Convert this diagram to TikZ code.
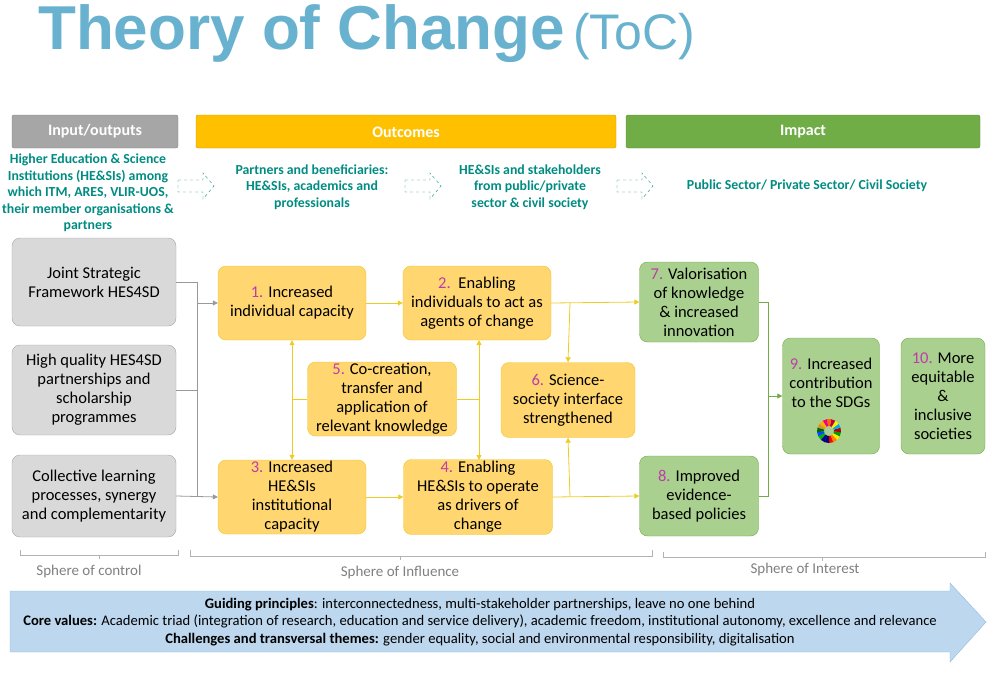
\documentclass[tikz,border=0pt]{standalone}
\usepackage{fontspec}
\setmainfont{Carlito}
\newfontfamily\titlefont{Liberation Sans}
\usetikzlibrary{arrows.meta}
\definecolor{ttl}{RGB}{104,178,208}
\definecolor{teal1}{RGB}{0,140,130}
\definecolor{gbar}{RGB}{166,166,166}
\definecolor{obar}{RGB}{255,192,0}
\definecolor{ibar}{RGB}{112,173,71}
\definecolor{gfill}{RGB}{217,217,217}
\definecolor{ofill}{RGB}{255,214,112}
\definecolor{oline}{RGB}{235,200,40}
\definecolor{gnfill}{RGB}{169,208,142}
\definecolor{num}{RGB}{190,60,170}
\definecolor{bfill}{RGB}{189,215,238}
\definecolor{bline}{RGB}{140,185,225}
\begin{document}
\begin{tikzpicture}[x=1pt,y=-1pt,
 bar/.style={draw=#1!80!black,fill=#1,rounded corners=2pt},
 btxt/.style={text=white,font=\bfseries\fontsize{16}{18}\selectfont},
 hdr/.style={text=teal1,font=\bfseries\fontsize{13.8}{16.5}\selectfont,align=center},
 gbox/.style={draw=gray!70,fill=gfill,rounded corners=8pt,align=center,font=\fontsize{16.5}{19}\selectfont},
 obox/.style={draw=oline,fill=ofill,rounded corners=8pt,align=center,font=\fontsize{16.5}{19}\selectfont},
 nbox/.style={draw=ibar,fill=gnfill,rounded corners=8pt,align=center,font=\fontsize{16.5}{19}\selectfont},
 garr/.style={draw=gray!80,thick,-{Triangle[length=5pt,width=5pt]}},
 yarr/.style={draw=oline!90!yellow,thick,-{Triangle[length=5pt,width=5pt]}},
 yln/.style={draw=oline!90!yellow,thick},
 narr/.style={draw=ibar,thick,-{Triangle[length=5pt,width=5pt]}},
 dar/.style={draw=teal1,dashed,fill=white},
 sph/.style={text=gray,font=\fontsize{15}{17}\selectfont}]
\useasboundingbox (0,0) rectangle (988,683);
\node[anchor=west,text=ttl,inner sep=0] (title) at (38,34) {\titlefont\fontsize{62}{70}\selectfont\bfseries Theory of Change\hspace{8pt}\mdseries\fontsize{50}{60}\selectfont(ToC)};
% bars
\path[bar=gbar] (12,115) rectangle (178,148); \node[btxt] (b1) at (95,131) {Input/outputs};
\path[bar=obar] (196,115) rectangle (616,148); \node[btxt] (b2) at (406,132) {Outcomes};
\path[bar=ibar] (626,115) rectangle (980,148); \node[btxt] (b3) at (803,132) {Impact};
% header texts
\node[hdr] (h1) at (88,193) {Higher Education \& Science\\Institutions (HE\&SIs) among\\which ITM, ARES, VLIR-UOS,\\their member organisations \&\\partners};
\node[hdr] (h2) at (312,187) {Partners and beneficiaries:\\HE\&SIs, academics and\\professionals};
\node[hdr] (h3) at (530,187) {HE\&SIs and stakeholders\\from public/private\\sector \& civil society};
\node[hdr] (h4) at (807,186) {Public Sector/ Private Sector/ Civil Society};
\foreach \x in {178,405,617}{
 \draw[dar] (\x,180)--(\x+25,180)--(\x+25,173)--(\x+36,186)--(\x+25,199)--(\x+25,192)--(\x,192)--cycle;}
% grey boxes
\node[gbox,minimum width=164,minimum height=88] (g1) at (94,282) {Joint Strategic\\Framework HES4SD};
\node[gbox,minimum width=164,minimum height=90] (g2) at (94,390) {High quality HES4SD\\partnerships and\\scholarship\\programmes};
\node[gbox,minimum width=164,minimum height=82] (g3) at (94,496) {Collective learning\\processes, synergy\\and complementarity};
% orange boxes
\node[obox,minimum width=148,minimum height=74] (o1) at (292,303) {\textcolor{num}{1.} Increased\\individual capacity};
\node[obox,minimum width=148,minimum height=74] (o2) at (477,303) {\textcolor{num}{2.}\, Enabling\\individuals to act as\\agents of change};
\node[obox,minimum width=149,minimum height=74,inner sep=1pt] (o5) at (382,399) {\textcolor{num}{5.} Co-creation,\\transfer and\\application of\\relevant knowledge};
\node[obox,minimum width=134,minimum height=75,inner sep=1pt] (o6) at (568,400) {\textcolor{num}{6.} Science-\\society interface\\strengthened};
\node[obox,minimum width=148,minimum height=74,inner sep=1pt] (o3) at (292,497) {\textcolor{num}{3.} Increased\\HE\&SIs\\institutional\\capacity};
\node[obox,minimum width=149,minimum height=75,inner sep=1pt] (o4) at (478,497) {\textcolor{num}{4.} Enabling\\HE\&SIs to operate\\as drivers of\\change};
% green boxes
\node[nbox,minimum width=119,minimum height=80,inner sep=1pt] (n7) at (699,302) {\textcolor{num}{7.} Valorisation\\of knowledge\\\& increased\\innovation};
\node[nbox,minimum width=119,minimum height=80] (n8) at (699,496) {\textcolor{num}{8.} Improved\\evidence-\\based policies};
\node[nbox,minimum width=97,minimum height=116,text depth=26pt,inner sep=1pt] (n9) at (831,396) {\textcolor{num}{9.} Increased\\contribution\\to the SDGs};
\node[nbox,minimum width=84,minimum height=116,inner sep=1pt] (n10) at (943,396) {\textcolor{num}{10.} More\\equitable\\\&\\inclusive\\societies};
% SDG wheel
\coordinate (w) at (829,431);
\foreach \i/\c in {0/red,1/orange,2/yellow!90!orange,3/green!60!black,4/red!70!black,5/cyan,6/yellow,7/purple,8/orange!80!red,9/magenta,10/orange!60!yellow,11/brown!80!yellow,12/green!40!black,13/blue!70!cyan,14/green!70!black,15/blue!60!black,16/blue!40!black}{
 \fill[\c] (w) ++(90-\i*21.18:5) arc[start angle=90-\i*21.18,end angle=90-\i*21.18-21.18,radius=5] -- ++(90-\i*21.18-21.18:7) arc[start angle=90-\i*21.18-21.18,end angle=90-\i*21.18,radius=12] -- cycle;}
% grey connectors
\coordinate (gj) at (197,282);
\draw[draw=gray!80,thick] (g1.east) -- (gj) -- (197,497);
\draw[draw=gray!80,thick] (g2.east) -- (197,390);
\draw[garr] (197,303) -- (o1.west);
\draw[garr] (g3.east) -- (o3.west);
% yellow connectors
\draw[yarr] (o1) -- (o2);
\draw[yarr] (o3) -- (o4);
\draw[yarr] (o2.east) -- (n7.west);
\draw[yarr] (570,303) -- (o6.north);
\draw[yarr] (o4.east) -- (n8.west);
\draw[yarr] (570,497) -- (o6.south);
\draw[yarr,{Triangle[length=5pt,width=5pt]}-{Triangle[length=5pt,width=5pt]}] (o1.south) -- (o3.north);
\draw[yln] (292,399) -- (o5.west);
\draw[yarr,{Triangle[length=5pt,width=5pt]}-{Triangle[length=5pt,width=5pt]}] (479,340) -- (479,460);
\draw[yln] (o5.east) -- (479,399);
% green connectors
\draw[draw=ibar,thick] (n7.east) -- (768,302) -- (768,496) -- (n8.east);
\draw[narr] (768,396) -- (n9.west);
% spheres
\draw[gray!60] (20,550)--(20,555)--(178,555)--(178,550) (99,555)--(99,559);
\draw[gray!60] (190,550)--(190,556)--(652,556)--(652,550) (400,556)--(400,560);
\draw[gray!60] (663,552)--(663,557)--(985,557)--(985,552) (822,557)--(822,561);
\node[sph] (s1) at (89,571) {Sphere of control};
\node[sph] (s2) at (400,572) {Sphere of Influence};
\node[sph] (s3) at (805,569) {Sphere of Interest};
% blue arrow
\draw[draw=bline,fill=bfill] (10,591)--(950,591)--(950,583)--(986,622)--(950,662)--(950,652)--(10,652)--cycle;
\node[align=center,font=\fontsize{14.6}{17.5}\selectfont] (gp) at (480,622) {\textbf{Guiding principles}: interconnectedness, multi-stakeholder partnerships, leave no one behind\\\textbf{Core values:} Academic triad (integration of research, education and service delivery), academic freedom, institutional autonomy, excellence and relevance\\\textbf{Challenges and transversal themes:} gender equality, social and environmental responsibility, digitalisation};
\end{tikzpicture}
\end{document}
